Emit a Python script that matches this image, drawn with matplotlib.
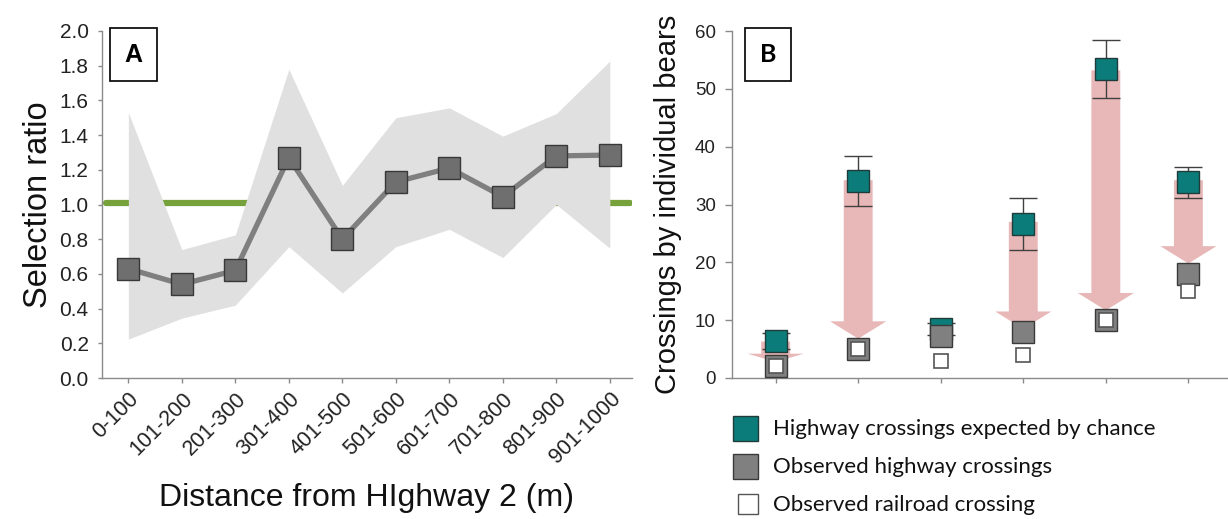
import matplotlib
matplotlib.use("Agg")
import matplotlib.pyplot as plt
from matplotlib.patches import Rectangle, FancyArrow
import numpy as np

# ---------------- data ----------------
distance_bins = ["0-100", "101-200", "201-300", "301-400", "401-500",
                 "501-600", "601-700", "701-800", "801-900", "901-1000"]
selection_ratio = [0.63, 0.54, 0.62, 1.27, 0.80, 1.13, 1.21, 1.045, 1.28, 1.285]
ci_upper = [1.53, 0.74, 0.825, 1.78, 1.11, 1.50, 1.557, 1.394, 1.524, 1.827]
ci_lower = [0.224, 0.345, 0.42, 0.757, 0.49, 0.757, 0.857, 0.694, 1.0, 0.748]
reference_ratio = 1.01

segments = [0, 1, 2, 3, 4, 5]
expected_crossings = [6.4, 34.1, 8.45, 26.6, 53.5, 33.9]
expected_err_low = [1.3, 4.3, 1.05, 4.5, 5.0, 2.7]
expected_err_high = [1.3, 4.3, 1.05, 4.5, 5.0, 2.6]
observed_highway = [2.0, 5.0, 7.2, 8.0, 10.0, 17.9]
observed_railroad = [2.0, 5.0, 2.9, 4.0, 10.0, 15.0]
arrow_top = [6.3, 34.2, None, 27.0, 53.2, 34.2]
arrow_tip = [2.8, 6.8, None, 8.5, 11.7, 19.8]

legend_labels = ["Highway crossings expected by chance",
                 "Observed highway crossings",
                 "Observed railroad crossing"]

# ---------------- style ----------------
W, H = 1228, 519
fig = plt.figure(figsize=(W / 100, H / 100), dpi=100)
plt.rcParams['font.family'] = ['Liberation Sans', 'DejaVu Sans']

spine_col = "#8a8a8a"
teal = "#0b7c79"
pink = "#e8b7b7"

def fx(px):
    return px / W

def fy(py):
    return 1 - py / H

def style_axes(ax, size):
    for s in ["top", "right"]:
        ax.spines[s].set_visible(False)
    for s in ["left", "bottom"]:
        ax.spines[s].set_color(spine_col)
        ax.spines[s].set_linewidth(1.0)
    ax.tick_params(axis="both", colors=spine_col, width=1.0,
                   labelcolor="#222222", labelsize=size, direction="out")

# ---------------- panel A ----------------
axA = fig.add_axes([fx(101.6), fy(378), fx(632.3 - 101.6), (378 - 31) / H])
xA = np.arange(len(distance_bins))
axA.axhline(reference_ratio, color="#76a13b", lw=4.5, solid_capstyle="round",
            xmin=0.008, xmax=0.995, zorder=1)
axA.fill_between(xA, ci_lower, ci_upper, color="#e0e0e0", lw=0, zorder=2)
axA.plot(xA, selection_ratio, color="#7f7f7f", lw=3.8, zorder=3,
         marker="s", markersize=16, markerfacecolor="#6f6f6f",
         markeredgecolor="#383838", markeredgewidth=1.0)
axA.set_xlim(-0.5, 9.42)
axA.set_ylim(0, 2.0)
axA.set_yticks(np.arange(0, 2.01, 0.2))
axA.set_yticklabels([f"{v:.1f}" for v in np.arange(0, 2.01, 0.2)])
axA.set_xticks(xA)
axA.set_xticklabels(distance_bins, rotation=45, ha="right", rotation_mode="anchor")
style_axes(axA, 15)
axA.tick_params(axis="y", length=3, pad=6.3)
axA.tick_params(axis="x", length=3.6, pad=4, labelsize=15.5)
axA.set_ylabel("Selection ratio", fontsize=23.5, color="#111111", labelpad=4)
axA.set_xlabel("Distance from HIghway 2 (m)", fontsize=23, color="#111111", labelpad=11)

# ---------------- panel B ----------------
axB = fig.add_axes([fx(731.9), fy(378), fx(W - 731.9), (378 - 31) / H])
for i, (top, tip) in enumerate(zip(arrow_top, arrow_tip)):
    if top is None:
        continue
    length = top - tip
    hl = min(3.0, 0.4 * length)
    arr = FancyArrow(segments[i], top, 0, -length, width=0.35, head_width=0.68,
                     head_length=hl, length_includes_head=True,
                     color=pink, lw=0, zorder=1)
    axB.add_patch(arr)
axB.errorbar(segments, expected_crossings, yerr=[expected_err_low, expected_err_high],
             fmt="none", ecolor="#404040", elinewidth=1.0, capsize=10, capthick=1.0,
             zorder=2)
axB.plot(segments, expected_crossings, ls="none", marker="s", markersize=16,
         markerfacecolor=teal, markeredgecolor="#1f3b3a", markeredgewidth=1.0, zorder=3)
axB.plot(segments, observed_highway, ls="none", marker="s", markersize=16,
         markerfacecolor="#808080", markeredgecolor="#3a3a3a", markeredgewidth=1.0,
         zorder=4)
axB.plot(segments, observed_railroad, ls="none", marker="s", markersize=10,
         markerfacecolor="white", markeredgecolor="#555555", markeredgewidth=1.2, zorder=5)
axB.set_xlim(-0.53, 5.48)
axB.set_ylim(0, 60)
axB.set_yticks(np.arange(0, 61, 10))
axB.set_xticks(segments)
axB.set_xticklabels([])
style_axes(axB, 13.5)
axB.tick_params(axis="y", length=5, pad=6.5)
axB.tick_params(axis="x", length=3.6)
axB.set_ylabel("Crossings by individual bears", fontsize=21, color="#111111", labelpad=9)

# ---------------- panel letters ----------------
for (x0, x1, y0, y1, letter, fam) in [(110, 157, 28, 81, "A", "Liberation Sans"),
                                     (745, 791, 28, 81, "B", "Lato")]:
    fig.add_artist(Rectangle((fx(x0), fy(y1)), fx(x1 - x0), (y1 - y0) / H,
                             transform=fig.transFigure, facecolor="white",
                             edgecolor="#111111", lw=1.3, zorder=10))
    fig.text(fx((x0 + x1) / 2), fy((y0 + y1) / 2), letter, ha="center", va="center",
             fontsize=18, fontweight="bold", family=fam, zorder=11)

# ---------------- legend ----------------
leg_rows = [(428.3, teal, "#1f3b3a", 25), (466.0, "#808080", "#3a3a3a", 25),
            (504.0, "white", "#555555", 20)]
for (yc, fc, ec, size), label in zip(leg_rows, legend_labels):
    x1 = 758
    x0 = x1 - size
    fig.add_artist(Rectangle((fx(x0), fy(yc + size / 2)), fx(size), size / H,
                             transform=fig.transFigure, facecolor=fc, edgecolor=ec, lw=1.0))
    fig.text(fx(773), fy(yc + 1), label, ha="left", va="center", fontsize=16,
             family="Lato", color="#111111")

fig.savefig("out.png", dpi=100)
